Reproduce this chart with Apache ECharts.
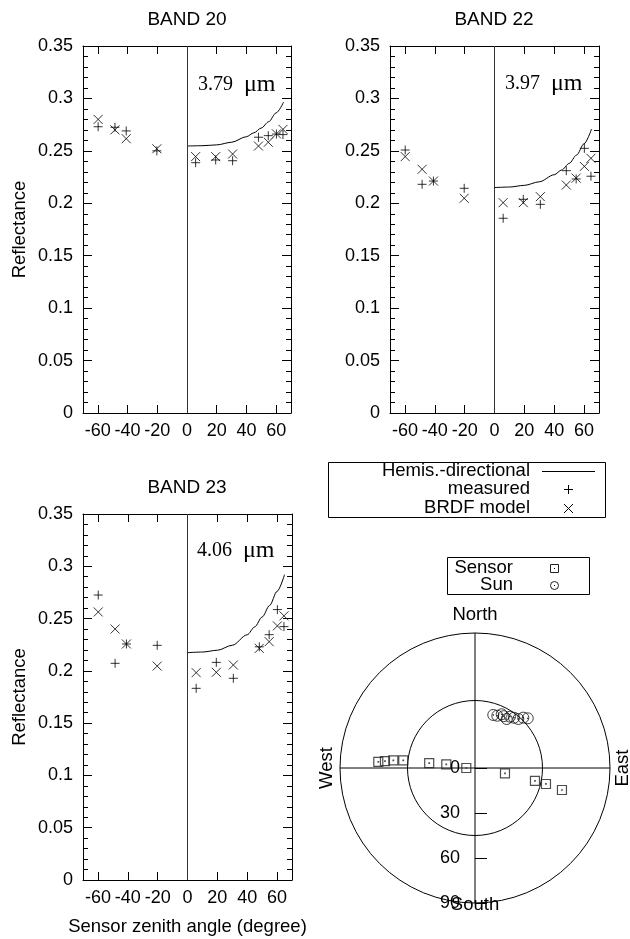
<!DOCTYPE html>
<html>
<head>
<meta charset="utf-8">
<script src="https://cdn.jsdelivr.net/npm/echarts@6/dist/echarts.min.js"></script>
<style>
  html, body { margin: 0; padding: 0; background: #fff; }
  #chart { width: 630px; height: 939px; }
</style>
</head>
<body>
<div id="chart"></div>
<script>
// Sensor view zenith angles (negative = looking from the east, positive = from the west)
const zenithAngles = [-59.8, -48.5, -40.9, -20.3, 5.8, 19.3, 30.7, 48.1, 54.7, 60.2, 64.6];

// Band 20 (3.79 um) reflectance
const band20Measured = [0.273, 0.2725, 0.269, 0.250, 0.2387, 0.2413, 0.2406, 0.263, 0.2645, 0.266, 0.2655];
const band20Model    = [0.280, 0.270, 0.2616, 0.252, 0.2445, 0.2445, 0.247, 0.2546, 0.2582, 0.2662, 0.2705];
// Band 22 (3.97 um) reflectance
const band22Measured = [0.2508, 0.2181, 0.2212, 0.2143, 0.1857, 0.2038, 0.199, 0.2311, 0.2232, 0.2524, 0.2258];
const band22Model    = [0.2445, 0.2324, 0.2212, 0.2048, 0.2006, 0.2006, 0.2063, 0.2174, 0.2240, 0.2352, 0.2429];
// Band 23 (4.06 um) reflectance
const band23Measured = [0.2725, 0.2072, 0.2257, 0.2244, 0.1833, 0.2081, 0.1929, 0.2230, 0.2346, 0.2586, 0.2423];
const band23Model    = [0.2563, 0.2400, 0.2257, 0.2046, 0.1983, 0.1986, 0.2056, 0.2215, 0.2279, 0.2430, 0.2526];

// Hemispherical-directional reflectance curves
const curveAngles = [0, 10, 20, 30, 40, 45, 50, 55, 60, 65];
const band20Hemis = [0.2546, 0.2549, 0.2557, 0.2582, 0.2635, 0.2672, 0.2718, 0.2778, 0.2862, 0.2965];
const band22Hemis = [0.2150, 0.2155, 0.2171, 0.2205, 0.2272, 0.2318, 0.2380, 0.2460, 0.2568, 0.2708];
const band23Hemis = [0.2174, 0.2180, 0.2197, 0.2245, 0.2345, 0.2420, 0.2515, 0.2625, 0.2760, 0.2920];

const bandTitles = ['BAND 20', 'BAND 22', 'BAND 23'];
const bandWavelengths = ['3.79', '3.97', '4.06'];
const xTickValues = [-60, -40, -20, 0, 20, 40, 60];

// Viewing geometry (zenith in degrees, azimuth clockwise from north)
const sensorZenith  = [64.6, 60.2, 54.7, 48.1, 30.7, 19.3, 5.8, 20.3, 40.9, 48.5, 59.8];
const sensorAzimuth = [273.6, 274.4, 275.4, 276.1, 276.2, 277.3, 270.0, 100.0, 102.2, 102.7, 104.2];
const sunZenith  = [37.4, 37.9, 39.5, 40.0, 38.9, 41.4, 42.4, 43.6, 46.5, 48.3];
const sunAzimuth = [19.0, 23.1, 29.0, 26.4, 32.9, 34.3, 37.8, 41.5, 43.8, 46.7];

const FONT = '"Liberation Sans", Arial, Helvetica, sans-serif';
const SERIF = '"Liberation Serif", "Times New Roman", serif';
const BLACK = '#000';

const plusSymbol  = 'path://M0,5H10M5,0V10';
const crossSymbol = 'path://M0,0L10,10M10,0L0,10';
const squareDotSymbol = 'path://M0,0H10V10H0Z M4.7,4.7H5.3V5.3H4.7Z';
const circleDotSymbol = 'path://M10,5A5,5,0,1,1,0,5A5,5,0,1,1,10,5Z M4.7,4.7H5.3V5.3H4.7Z';

const grids = [
  { left: 83,  top: 46,  width: 208, height: 367 },
  { left: 390, top: 46,  width: 209, height: 367 },
  { left: 83,  top: 514, width: 209, height: 366 }
];

const bands = [
  { measured: band20Measured, model: band20Model, hemis: band20Hemis },
  { measured: band22Measured, model: band22Model, hemis: band22Hemis },
  { measured: band23Measured, model: band23Model, hemis: band23Hemis }
];

const lineStyle = { color: BLACK, width: 1 };

const xAxes = [];
const yAxes = [];
const series = [];

grids.forEach((g, i) => {
  // bottom axis with labels
  xAxes.push({
    gridIndex: i, type: 'value', position: 'bottom', min: -70, max: 70,
    axisLine: { show: true, onZero: false, lineStyle },
    axisTick: { show: true, inside: true, length: 8, customValues: xTickValues, lineStyle },
    axisLabel: { show: true, customValues: xTickValues, fontSize: 18, fontFamily: FONT, color: BLACK, margin: 9 },
    splitLine: { show: false },
    name: i === 2 ? 'Sensor zenith angle (degree)' : '',
    nameLocation: 'middle', nameGap: 37,
    nameTextStyle: { fontSize: 18.5, fontFamily: FONT, color: BLACK }
  });
  // mirrored top axis
  xAxes.push({
    gridIndex: i, type: 'value', position: 'top', min: -70, max: 70,
    axisLine: { show: true, onZero: false, lineStyle },
    axisTick: { show: true, inside: true, length: 8, customValues: xTickValues, lineStyle },
    axisLabel: { show: false },
    splitLine: { show: false }
  });
  // left axis with labels
  yAxes.push({
    gridIndex: i, type: 'value', position: 'left', min: 0, max: 0.35, interval: 0.05,
    axisLine: { show: true, onZero: false, lineStyle },
    axisTick: { show: true, inside: true, length: 9, lineStyle },
    minorTick: { show: true, splitNumber: 5, length: 5, lineStyle },
    axisLabel: { show: true, fontSize: 18, fontFamily: FONT, color: BLACK, margin: 10 },
    splitLine: { show: false },
    name: i === 1 ? '' : 'Reflectance',
    nameLocation: 'middle', nameGap: 54,
    nameTextStyle: { fontSize: 18.5, fontFamily: FONT, color: BLACK }
  });
  // mirrored right axis
  yAxes.push({
    gridIndex: i, type: 'value', position: 'right', min: 0, max: 0.35, interval: 0.05,
    axisLine: { show: true, onZero: false, lineStyle },
    axisTick: { show: true, inside: true, length: 9, lineStyle },
    minorTick: { show: true, splitNumber: 5, length: 5, lineStyle },
    axisLabel: { show: false },
    splitLine: { show: false }
  });

  const b = bands[i];
  series.push({
    name: 'Hemis.-directional', type: 'line',
    xAxisIndex: 2 * i, yAxisIndex: 2 * i,
    data: curveAngles.map((a, k) => [a, b.hemis[k]]),
    smooth: 0.3, smoothMonotone: 'x', showSymbol: false, symbol: 'none',
    lineStyle: { color: BLACK, width: 1 },
    markLine: {
      silent: true, symbol: 'none', label: { show: false },
      lineStyle: { color: '#333', type: 'solid', width: 1 },
      data: [{ xAxis: 0 }]
    },
    z: 3
  });
  series.push({
    name: 'measured', type: 'scatter',
    xAxisIndex: 2 * i, yAxisIndex: 2 * i,
    data: zenithAngles.map((a, k) => [a, b.measured[k]]),
    symbol: plusSymbol, symbolSize: 9,
    itemStyle: { color: 'rgba(0,0,0,0)', borderColor: BLACK, borderWidth: 1 },
    z: 4
  });
  series.push({
    name: 'BRDF model', type: 'scatter',
    xAxisIndex: 2 * i, yAxisIndex: 2 * i,
    data: zenithAngles.map((a, k) => [a, b.model[k]]),
    symbol: crossSymbol, symbolSize: 9,
    itemStyle: { color: 'rgba(0,0,0,0)', borderColor: BLACK, borderWidth: 1 },
    z: 4
  });
});

// Polar plot: angle value 0 points south, increasing clockwise
const toPolarAngle = az => (az + 180) % 360;

series.push({
  name: 'Sensor', type: 'scatter', coordinateSystem: 'polar', polarIndex: 0,
  data: sensorZenith.map((z, k) => [z, toPolarAngle(sensorAzimuth[k])]),
  symbol: squareDotSymbol, symbolSize: 9,
  itemStyle: { color: 'rgba(0,0,0,0)', borderColor: '#222', borderWidth: 1.2 },
  z: 5
});
series.push({
  name: 'Sun', type: 'scatter', coordinateSystem: 'polar', polarIndex: 0,
  data: sunZenith.map((z, k) => [z, toPolarAngle(sunAzimuth[k])]),
  symbol: circleDotSymbol, symbolSize: 11,
  itemStyle: { color: 'rgba(0,0,0,0)', borderColor: '#111', borderWidth: 1 },
  z: 5
});

const textStyle = (extra) => Object.assign({ fill: BLACK, font: '18.5px ' + FONT }, extra);

const graphic = [];
// panel titles
const titleFont = '19px ' + FONT;
graphic.push({ type: 'text', x: 187, y: 20, style: textStyle({ text: bandTitles[0], align: 'center', verticalAlign: 'middle', font: titleFont }) });
graphic.push({ type: 'text', x: 494, y: 20, style: textStyle({ text: bandTitles[1], align: 'center', verticalAlign: 'middle', font: titleFont }) });
graphic.push({ type: 'text', x: 187, y: 488, style: textStyle({ text: bandTitles[2], align: 'center', verticalAlign: 'middle', font: titleFont }) });

// wavelength annotations
const wavelengthText = (x, y, value) => ({
  type: 'text', x, y,
  style: {
    text: '{n|' + value + '}{u|\u03bcm}',
    align: 'left', verticalAlign: 'middle', fill: BLACK,
    rich: {
      n: { font: '20px ' + SERIF, fill: BLACK, padding: [0, 11, 0, 0] },
      u: { font: '24px ' + SERIF, fill: BLACK }
    }
  }
});
graphic.push(wavelengthText(198, 85, bandWavelengths[0]));
graphic.push(wavelengthText(505, 84, bandWavelengths[1]));
graphic.push(wavelengthText(197, 551, bandWavelengths[2]));

// key for the reflectance panels
graphic.push({ type: 'rect', shape: { x: 328.5, y: 462.5, width: 277, height: 55 }, style: { fill: 'none', stroke: BLACK, lineWidth: 1 } });
graphic.push({ type: 'text', x: 530, y: 471, style: textStyle({ text: 'Hemis.-directional', align: 'right', verticalAlign: 'middle' }) });
graphic.push({ type: 'text', x: 530, y: 489, style: textStyle({ text: 'measured', align: 'right', verticalAlign: 'middle' }) });
graphic.push({ type: 'text', x: 530, y: 508, style: textStyle({ text: 'BRDF model', align: 'right', verticalAlign: 'middle' }) });
graphic.push({ type: 'line', shape: { x1: 542, y1: 471.5, x2: 595, y2: 471.5 }, style: { stroke: BLACK, lineWidth: 1 } });
graphic.push({ type: 'line', shape: { x1: 564, y1: 489.5, x2: 573, y2: 489.5 }, style: { stroke: BLACK, lineWidth: 1 } });
graphic.push({ type: 'line', shape: { x1: 568.5, y1: 485, x2: 568.5, y2: 494 }, style: { stroke: BLACK, lineWidth: 1 } });
graphic.push({ type: 'line', shape: { x1: 564, y1: 504, x2: 573, y2: 513 }, style: { stroke: BLACK, lineWidth: 1 } });
graphic.push({ type: 'line', shape: { x1: 573, y1: 504, x2: 564, y2: 513 }, style: { stroke: BLACK, lineWidth: 1 } });

// key for the polar plot
graphic.push({ type: 'rect', shape: { x: 447.5, y: 557.5, width: 142, height: 37 }, style: { fill: 'none', stroke: BLACK, lineWidth: 1 } });
graphic.push({ type: 'text', x: 513, y: 568, style: textStyle({ text: 'Sensor', align: 'right', verticalAlign: 'middle' }) });
graphic.push({ type: 'text', x: 513, y: 585, style: textStyle({ text: 'Sun', align: 'right', verticalAlign: 'middle' }) });
graphic.push({ type: 'rect', shape: { x: 550.5, y: 564.5, width: 8, height: 8 }, style: { fill: 'none', stroke: '#222', lineWidth: 1 } });
graphic.push({ type: 'rect', shape: { x: 554, y: 568, width: 1, height: 1 }, style: { fill: BLACK } });
graphic.push({ type: 'circle', shape: { cx: 554.5, cy: 585.5, r: 4 }, style: { fill: 'none', stroke: '#222', lineWidth: 1 } });
graphic.push({ type: 'rect', shape: { x: 554, y: 585, width: 1, height: 1 }, style: { fill: BLACK } });

// compass directions
graphic.push({ type: 'text', x: 475, y: 615, style: textStyle({ text: 'North', align: 'center', verticalAlign: 'middle' }) });
graphic.push({ type: 'text', x: 475, y: 905, style: textStyle({ text: 'South', align: 'center', verticalAlign: 'middle' }) });
graphic.push({ type: 'text', x: 327, y: 768, rotation: Math.PI / 2, style: textStyle({ text: 'West', align: 'center', verticalAlign: 'middle' }) });
graphic.push({ type: 'text', x: 623, y: 768, rotation: Math.PI / 2, style: textStyle({ text: 'East', align: 'center', verticalAlign: 'middle' }) });

const option = {
  animation: false,
  backgroundColor: '#fff',
  grid: grids.map(g => Object.assign({ containLabel: false }, g)),
  xAxis: xAxes,
  yAxis: yAxes,
  polar: [
    { center: [475, 768], radius: 135 },
    { center: [475, 768], radius: 67.5 }
  ],
  angleAxis: [
    {
      polarIndex: 0, type: 'value', min: 0, max: 360, interval: 90,
      startAngle: 270, clockwise: true,
      axisLine: { show: true, lineStyle },
      axisTick: { show: false }, axisLabel: { show: false },
      splitLine: { show: true, lineStyle }
    },
    {
      polarIndex: 1, type: 'value', min: 0, max: 360, interval: 90,
      startAngle: 270, clockwise: true,
      axisLine: { show: true, lineStyle },
      axisTick: { show: false }, axisLabel: { show: false },
      splitLine: { show: false }
    }
  ],
  radiusAxis: [
    {
      polarIndex: 0, type: 'value', min: 0, max: 90, interval: 30,
      axisLine: { show: false },
      axisTick: { show: true, inside: true, length: 12, lineStyle },
      axisLabel: { show: true, align: 'right', verticalAlign: 'middle', fontSize: 18, fontFamily: FONT, color: BLACK, margin: -15 },
      splitLine: { show: false }
    },
    {
      polarIndex: 1, type: 'value', min: 0, max: 90,
      axisLine: { show: false }, axisTick: { show: false }, axisLabel: { show: false },
      splitLine: { show: false }
    }
  ],
  series,
  graphic
};

const chart = echarts.init(document.getElementById('chart'), null, { renderer: 'canvas' });
chart.setOption(option);
</script>
</body>
</html>
